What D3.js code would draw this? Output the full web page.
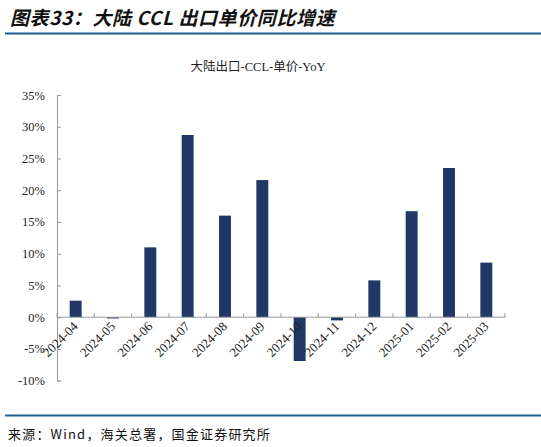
<!DOCTYPE html>
<html>
<head>
<meta charset="utf-8">
<script src="https://cdn.jsdelivr.net/npm/d3@7"></script>
<style>
  body { margin: 0; background: #fff; }
  svg { display: block; }
</style>
</head>
<body>
<svg id="chart" width="541" height="447"></svg>
<script>
// chart data
var months = ['2024-04', '2024-05', '2024-06', '2024-07', '2024-08', '2024-09',
              '2024-10', '2024-11', '2024-12', '2025-01', '2025-02', '2025-03'];
var yoy = [2.6, -0.2, 11.0, 28.7, 16.0, 21.6, -6.9, -0.5, 5.8, 16.7, 23.5, 8.6];
var yTicks = [-10, -5, 0, 5, 10, 15, 20, 25, 30, 35];

var svg = d3.select('#chart');
var serif = '"Liberation Serif", "Times New Roman", "Noto Sans CJK SC", serif';

// header
svg.append('text')
    .attr('x', 10)
    .attr('y', 25)
    .attr('font-family', '"Noto Sans CJK SC", sans-serif')
    .attr('font-size', 19)
    .attr('font-weight', 'bold')
    .attr('font-style', 'italic')
    .attr('letter-spacing', 0.6)
    .attr('fill', '#111')
    .text('图表33：大陆 CCL 出口单价同比增速');

svg.append('line')
    .attr('x1', 5).attr('x2', 541)
    .attr('y1', 33.5).attr('y2', 33.5)
    .attr('stroke', '#1f5f8e')
    .attr('stroke-width', 2);

svg.append('text')
    .attr('x', 258)
    .attr('y', 71)
    .attr('text-anchor', 'middle')
    .attr('font-family', serif)
    .attr('font-size', 12.5)
    .attr('fill', '#222')
    .text('大陆出口-CCL-单价-YoY');

// scales
var x = d3.scaleBand()
    .domain(months)
    .range([57, 505])
    .paddingInner(0.68)
    .paddingOuter(0.34);

var y = d3.scaleLinear()
    .domain([-10, 35])
    .range([380.7, 95]);

// bars
svg.append('g')
    .selectAll('rect')
    .data(months)
    .join('rect')
    .attr('x', function(d) { return x(d); })
    .attr('width', x.bandwidth())
    .attr('y', function(d, i) { return y(Math.max(0, yoy[i])); })
    .attr('height', function(d, i) { return Math.abs(y(yoy[i]) - y(0)); })
    .attr('fill', '#1f3864');

// y axis
var yAxis = svg.append('g')
    .attr('transform', 'translate(57,0)')
    .call(d3.axisRight(y)
        .tickValues(yTicks)
        .tickSize(4)
        .tickFormat(function(d) { return d + '%'; }));

yAxis.select('.domain').attr('stroke', '#999');
yAxis.selectAll('.tick line').attr('stroke', '#999');
yAxis.selectAll('.tick text')
    .attr('x', -12)
    .attr('text-anchor', 'end')
    .attr('font-family', serif)
    .attr('font-size', 12.5)
    .attr('fill', '#222');

// x axis at zero line
var step = x.step();
var xAxis = svg.append('g')
    .attr('transform', 'translate(0,' + y(0) + ')');

xAxis.append('line')
    .attr('x1', 57).attr('x2', 505)
    .attr('stroke', '#999');

xAxis.selectAll('line.tk')
    .data(d3.range(months.length + 1))
    .join('line')
    .attr('class', 'tk')
    .attr('x1', function(d) { return 57 + d * step; })
    .attr('x2', function(d) { return 57 + d * step; })
    .attr('y1', -4).attr('y2', 0)
    .attr('stroke', '#999');

xAxis.selectAll('text')
    .data(months)
    .join('text')
    .attr('transform', function(d) {
        return 'translate(' + (x(d) + x.bandwidth() / 2 + 3) + ',10) rotate(-45)';
    })
    .attr('text-anchor', 'end')
    .attr('font-family', serif)
    .attr('font-size', 13)
    .attr('fill', '#222')
    .text(function(d) { return d; });

// footer
svg.append('line')
    .attr('x1', 5).attr('x2', 541)
    .attr('y1', 415.5).attr('y2', 415.5)
    .attr('stroke', '#1f5f8e')
    .attr('stroke-width', 2);

svg.append('text')
    .attr('x', 8)
    .attr('y', 439)
    .attr('font-family', '"Noto Sans CJK SC", "DejaVu Sans Mono", monospace')
    .attr('font-size', 13)
    .attr('letter-spacing', 1.2)
    .attr('fill', '#111')
    .text('来源：Wind，海关总署，国金证券研究所');
</script>
</body>
</html>
